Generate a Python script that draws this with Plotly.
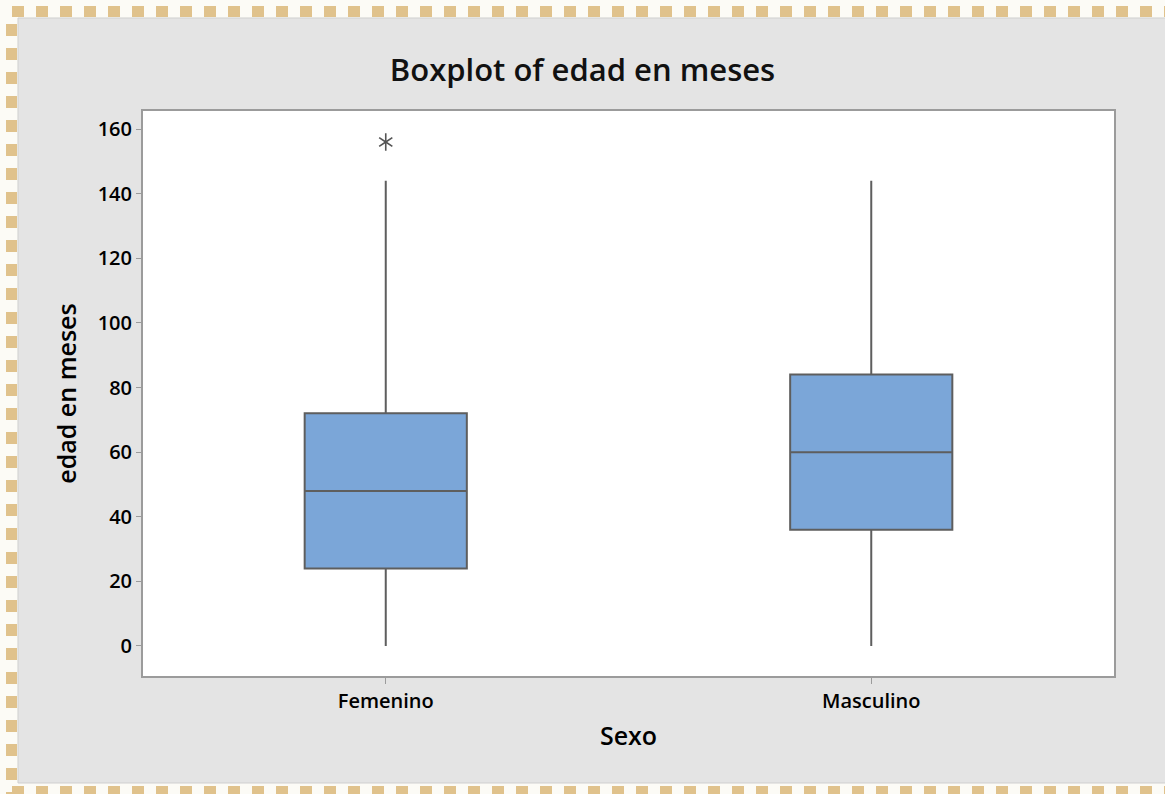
import plotly.graph_objects as go

# datos (Minitab)
sexo = ["Femenino", "Masculino"]
q1 = [24, 36]
mediana = [48, 60]
q3 = [72, 84]
bigote_inf = [0, 0]
bigote_sup = [144, 144]
atipico_x = ["Femenino", "Femenino"]
atipico_y = [156, 156]
yticks = [0, 20, 40, 60, 80, 100, 120, 140, 160]

W, H = 1165, 794
L, R, T, B = 143, 1114, 111, 676


def px(x):
    return (x - L) / (R - L)


def py(y):
    return (B - y) / (B - T)


fig = go.Figure()

fig.add_trace(go.Box(
    x=sexo, q1=q1, median=mediana, q3=q3,
    lowerfence=bigote_inf, upperfence=bigote_sup,
    fillcolor="#7BA6D8", line=dict(color="#5E5E5E", width=2),
    width=0.334, whiskerwidth=0, boxpoints=False, showlegend=False,
))

# asterisco de 6 brazos = y-up + y-down superpuestos
fig.add_trace(go.Scatter(
    x=atipico_x, y=atipico_y, mode="markers", showlegend=False,
    marker=dict(symbol=["y-up-open", "y-down-open"], size=11,
                color="#555555", line=dict(color="#555555", width=1.6)),
))

shapes = [
    # panel gris
    dict(type="rect", xref="paper", yref="paper", layer="below",
         x0=px(18), x1=px(1175), y0=py(18), y1=py(783),
         fillcolor="#E4E4E4", line=dict(color="#CFCFCF", width=1)),
    # area de trazado blanca
    dict(type="rect", xref="paper", yref="paper", layer="below",
         x0=0, x1=1, y0=0, y1=1, fillcolor="white", line=dict(width=0)),
]
borde = dict(color="#E0C28C", width=11, dash="12px,12px")
shapes += [
    dict(type="line", xref="paper", yref="paper", layer="below",
         x0=px(12), x1=px(1170), y0=py(11.5), y1=py(11.5), line=borde),
    dict(type="line", xref="paper", yref="paper", layer="below",
         x0=px(11.5), x1=px(11.5), y0=py(24), y1=py(800), line=borde),
    dict(type="line", xref="paper", yref="paper", layer="below",
         x0=px(12), x1=px(1170), y0=py(791.5), y1=py(791.5), line=borde),
]

fig.update_layout(
    width=W, height=H,
    margin=dict(l=L, r=W - R, t=T, b=H - B),
    paper_bgcolor="#FCFBF6", plot_bgcolor="white",
    font=dict(family="Open Sans", color="black"),
    title=dict(text="Boxplot of edad en meses", x=0.5, xanchor="center",
               y=1 - 70 / H, yanchor="middle",
               font=dict(size=31, weight=600, color="#111111")),
    shapes=shapes,
)

fig.update_xaxes(
    range=[-0.5, 1.5], showgrid=False, zeroline=False,
    showline=True, linecolor="#9B9B9B", linewidth=2, mirror=True,
    ticks="outside", ticklen=6, tickcolor="#9B9B9B", tickwidth=1,
    tickfont=dict(size=20, weight=600),
    title=dict(text="Sexo", font=dict(size=25, weight=600), standoff=14),
)
fig.update_yaxes(
    range=[-9.3, 165.6], tickvals=yticks, showgrid=False, zeroline=False,
    showline=True, linecolor="#9B9B9B", linewidth=2, mirror=True,
    ticks="outside", ticklen=5, tickcolor="#9B9B9B", tickwidth=1,
    tickfont=dict(size=20, weight=600),
    title=dict(text="edad en meses", font=dict(size=25, weight=600), standoff=14),
)

fig.write_html(
    "out.html",
    config={"displayModeBar": False},
    post_script="document.body.style.margin='0';"
                "document.body.style.background='#FCFBF6';",
)
